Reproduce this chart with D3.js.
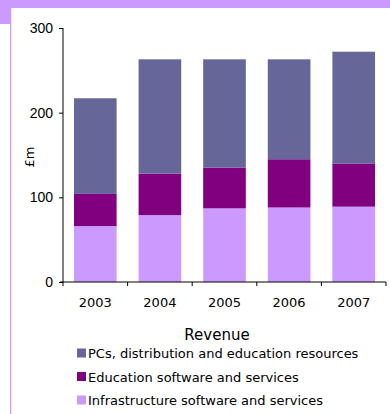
<!DOCTYPE html>
<html>
<head>
<meta charset="utf-8">
<script src="https://cdn.jsdelivr.net/npm/d3@7"></script>
<style>
  body { margin: 0; background: #fff; }
  svg { display: block; font-family: "DejaVu Sans", sans-serif; }
</style>
</head>
<body>
<script>
// revenue by year, £m
const years = ["2003", "2004", "2005", "2006", "2007"];
const infra = [66, 79, 87, 88, 89];
const edu = [38, 49, 48, 57, 51];
const pcs = [113, 135, 128, 118, 132];
const seriesNames = [
  "PCs, distribution and education resources",
  "Education software and services",
  "Infrastructure software and services"
];
const yTicks = [0, 100, 200, 300];

const W = 390, H = 414;
const colors = { infra: "#cc99ff", edu: "#800080", pcs: "#666699" };

const svg = d3.select("body").append("svg")
  .attr("width", W).attr("height", H);

// purple frame bits
svg.append("rect").attr("x", 0).attr("y", 0).attr("width", W).attr("height", 8).attr("fill", "#cc99ff");
svg.append("rect").attr("x", 0).attr("y", 0).attr("width", 11).attr("height", 24).attr("fill", "#cc99ff");
svg.append("rect").attr("x", 10).attr("y", 8).attr("width", 1.2).attr("height", H).attr("fill", "#cc99ff");

const x = d3.scaleBand().domain(years).range([63, 386]).paddingInner(0.34).paddingOuter(0.17);
const y = d3.scaleLinear().domain([0, 300]).range([282, 28]);

const rows = years.map((yr, i) => ({ year: yr, infra: infra[i], edu: edu[i], pcs: pcs[i] }));
const stack = d3.stack().keys(["infra", "edu", "pcs"])(rows);

svg.append("g").selectAll("g")
  .data(stack).enter().append("g")
  .attr("fill", d => colors[d.key])
  .selectAll("rect")
  .data(d => d).enter().append("rect")
  .attr("x", d => x(d.data.year))
  .attr("width", x.bandwidth())
  .attr("y", d => y(d[1]))
  .attr("height", d => y(d[0]) - y(d[1]));

// y axis
const yAxis = svg.append("g")
  .attr("transform", "translate(63,0)")
  .call(d3.axisLeft(y).tickValues(yTicks).tickSize(4).tickPadding(6));
yAxis.selectAll("text").style("font-size", "14px").attr("fill", "#000");
yAxis.selectAll("line, path").attr("stroke", "#000");
yAxis.select("path").attr("d", "M0,28V282");

// x axis: ticks between categories
const xg = svg.append("g").attr("transform", "translate(0,282)");
xg.append("line").attr("x1", 60).attr("x2", 386).attr("stroke", "#000");
const step = x.step();
const bounds = d3.range(years.length + 1).map(i => 63 + i * step);
xg.selectAll(".tk").data(bounds).enter().append("line")
  .attr("x1", d => d).attr("x2", d => d).attr("y1", 0).attr("y2", 4)
  .attr("stroke", "#000");
xg.selectAll("text").data(years).enter().append("text")
  .attr("x", d => x(d) + x.bandwidth() / 2)
  .attr("y", 25)
  .attr("text-anchor", "middle")
  .style("font-size", "13px")
  .text(d => d);

svg.append("text")
  .attr("transform", "translate(34,157) rotate(-90)")
  .attr("text-anchor", "middle")
  .style("font-size", "13px")
  .text("£m");

// legend
svg.append("text")
  .attr("x", 217).attr("y", 340)
  .attr("text-anchor", "middle")
  .style("font-size", "15px")
  .text("Revenue");

const legCols = [colors.pcs, colors.edu, colors.infra];
const leg = svg.append("g").selectAll("g")
  .data(seriesNames).enter().append("g")
  .attr("transform", (d, i) => `translate(77,${353 + i * 23.5})`);
leg.append("rect").attr("x", 0).attr("y", -4.5).attr("width", 9).attr("height", 9)
  .attr("fill", (d, i) => legCols[i]);
leg.append("text").attr("x", 11).attr("y", 5)
  .style("font-size", "13px")
  .text(d => d);
</script>
</body>
</html>
